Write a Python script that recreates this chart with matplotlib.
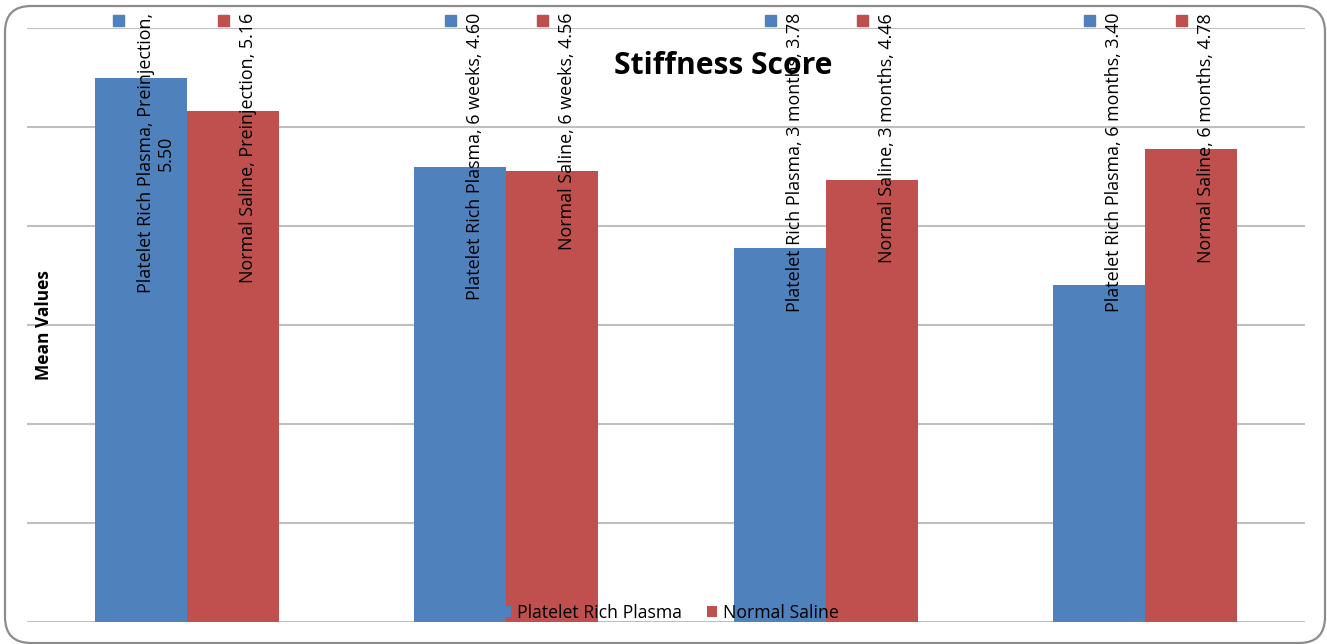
import matplotlib
matplotlib.use("Agg")
import matplotlib.pyplot as plt
import matplotlib.transforms as mtransforms
from matplotlib.patches import FancyBboxPatch, Patch
import numpy as np

# ---- data ----
timepoints = ["Preinjection", "6 weeks", "3 months", "6 months"]
series_names = ["Platelet Rich Plasma", "Normal Saline"]
prp_values = [5.50, 4.60, 3.78, 3.40]
saline_values = [5.16, 4.56, 4.46, 4.78]
title_text = "Stiffness Score"
ylabel_text = "Mean Values"

colors = ["#4F81BD", "#C0504D"]
FONT = "Open Sans"

W, H = 1327, 644
fig = plt.figure(figsize=(W / 100, H / 100), dpi=100)
fig.patch.set_facecolor("white")

# rounded chart frame, laid out in pixels
frame = FancyBboxPatch((5, 1), 1320, 637,
                       boxstyle="round,pad=0,rounding_size=26",
                       transform=mtransforms.IdentityTransform(), facecolor="none",
                       edgecolor="#8C8C8C", linewidth=1.6)
fig.patches.append(frame)

ax = fig.add_axes([27 / W, (H - 622) / H, (1305 - 27) / W, (622 - 28) / H])
ax.set_facecolor("none")

x = np.arange(len(timepoints))
bw = 0.288
all_values = [prp_values, saline_values]
offsets = [-bw / 2, bw / 2]

for vals, off, col in zip(all_values, offsets, colors):
    ax.bar(x + off, vals, width=bw, color=col, zorder=2)

ax.set_xlim(-0.5, len(timepoints) - 0.5)
ax.set_ylim(0, 6)
ax.set_yticks(np.arange(0, 7, 1))
ax.yaxis.grid(True, color="#BFBFBF", linewidth=1.5, zorder=0)
ax.tick_params(left=False, bottom=False, labelleft=False, labelbottom=False)
for s in ax.spines.values():
    s.set_visible(False)
ax.set_axisbelow(True)

# data labels with legend keys, running vertically above each bar
px = 72 / 100  # points per pixel
blend = mtransforms.blended_transform_factory(ax.transData, ax.transAxes)
for si, (vals, off, col) in enumerate(zip(all_values, offsets, colors)):
    for i, v in enumerate(vals):
        label = f"{series_names[si]}, {timepoints[i]}, {v:.2f}"
        nlines = 1
        if si == 0 and i == 0:
            label = f"{series_names[si]}, {timepoints[i]},\n{v:.2f}"
            nlines = 2
        ax.annotate(label, xy=(x[i] + off, 1.0), xycoords=blend,
                    xytext=(15 * px, 15 * px), textcoords="offset points",
                    rotation=90, ha="center", va="top", multialignment="center",
                    fontsize=12.9, family=FONT, color="black", linespacing=1.15,
                    annotation_clip=False, zorder=5)
        key_dx = (15 - 25 - 13 * (nlines - 1)) * px / 72
        tr = blend + mtransforms.ScaledTranslation(key_dx, 0, fig.dpi_scale_trans)
        ax.plot([x[i] + off], [1.0 + 8 / 594], marker="s", markersize=11 * px,
                color=col, linestyle="none", transform=tr, clip_on=False, zorder=5)

ax.set_title(title_text, fontsize=21.6, fontweight="bold", family=FONT, pad=0,
             x=(723 - 27) / 1278, y=(622 - 66) / 594, va="center")

fig.text(44 / W, (H - 325) / H, ylabel_text, rotation=90, ha="center", va="center",
         fontsize=12.5, fontweight="bold", family=FONT)

handles = [Patch(facecolor=c, edgecolor="none") for c in colors]
leg = ax.legend(handles, series_names, loc="center", ncol=2, frameon=False,
                bbox_to_anchor=((670 - 27) / 1278, 9 / 594),
                prop={"family": FONT, "size": 12.7}, handlelength=0.55,
                handleheight=0.55, handletextpad=0.35, columnspacing=1.4)
leg.set_zorder(6)

fig.savefig("out.png", dpi=100)
